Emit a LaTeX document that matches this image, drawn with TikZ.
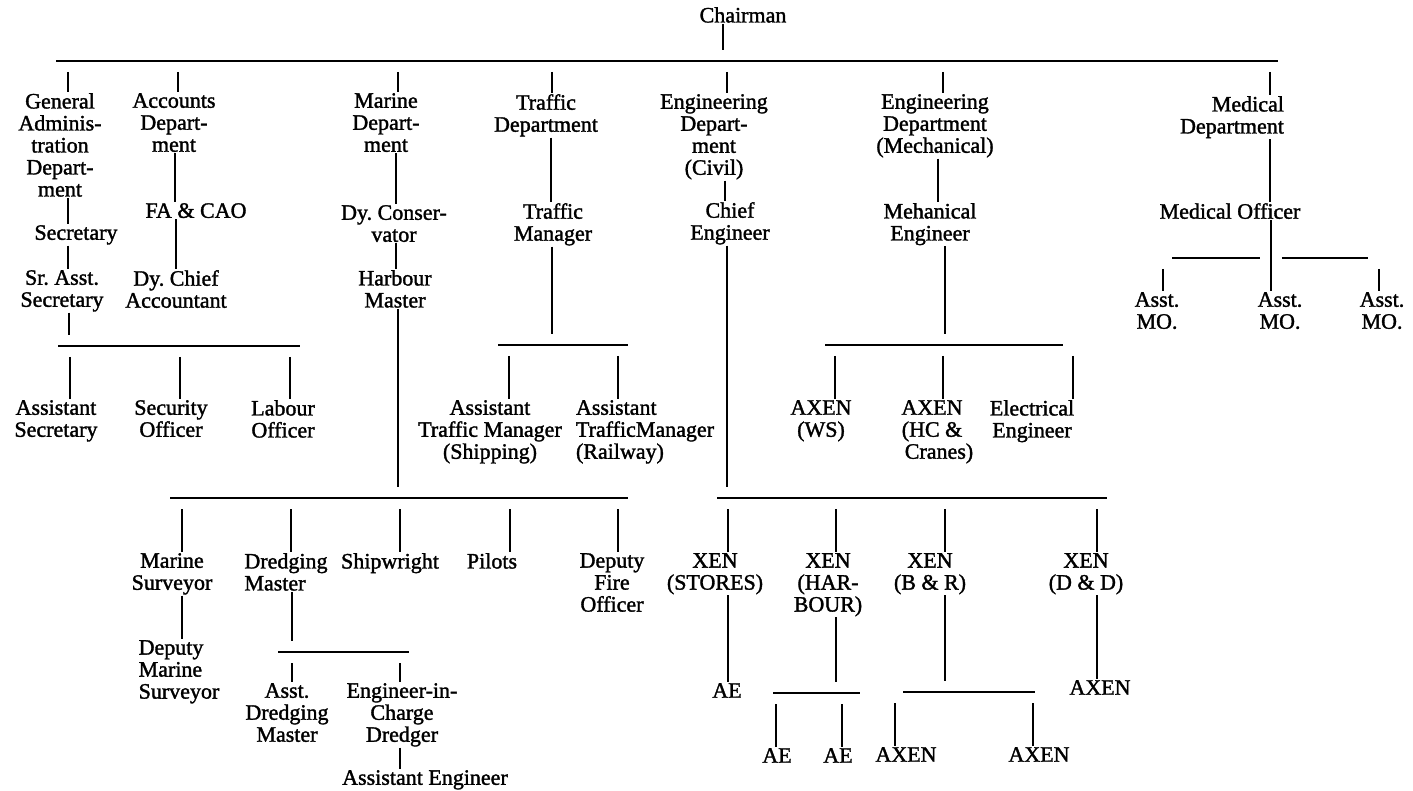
\documentclass[tikz,border=0pt]{standalone}
\usepackage{fontspec}
\setmainfont{Liberation Serif}
\newfontfamily\chartfont{Liberation Serif}[FakeBold=1.5]
\usetikzlibrary{calc}
\frenchspacing
\begin{document}
\begin{tikzpicture}[x=1pt,y=-1pt,
  post/.style={align=center,anchor=north,inner sep=1pt,font=\chartfont\fontsize{22}{22}\selectfont},
  link/.style={line width=1.8pt},
  drop/.style={link,shorten <=11pt},
  rise/.style={link,shorten >=11pt}]
  \useasboundingbox (0,0) rectangle (1413,791);
  % top and departments
  \node[post] (chair) at (743,6) {Chairman};
  \node[post] (gad) at (60,92) {General\\Adminis-\\tration\\Depart-\\ment};
  \node[post] (acc) at (174,92) {Accounts\\Depart-\\ment};
  \node[post] (mar) at (386,92) {Marine\\Depart-\\ment};
  \node[post] (trf) at (546,93) {Traffic\\Department};
  \node[post] (civ) at (714,93) {Engineering\\Depart-\\ment\\(Civil)};
  \node[post] (mech) at (935,93) {Engineering\\Department\\(Mechanical)};
  \node[post,align=right] (med) at (1232,95) {Medical\\Department};
  % general administration and accounts
  \node[post] (sec) at (76,224) {Secretary};
  \node[post] (srs) at (62,269) {Sr. Asst.\\Secretary};
  \node[post] (asec) at (56,399) {Assistant\\Secretary};
  \node[post] (seco) at (171,399) {Security\\Officer};
  \node[post] (labo) at (283,399) {Labour\\Officer};
  \node[post] (fa) at (196,202) {FA \& CAO};
  \node[post] (dyca) at (176,269) {Dy. Chief\\Accountant};
  % marine
  \node[post] (dycon) at (394,204) {Dy. Conser-\\vator};
  \node[post] (hm) at (395,269) {Harbour\\Master};
  \node[post] (msur) at (172,552) {Marine\\Surveyor};
  \node[post,align=left] (dmas) at (286,552) {Dredging\\Master};
  \node[post] (ship) at (390,552) {Shipwright};
  \node[post] (pil) at (492,552) {Pilots};
  \node[post] (dfo) at (612,552) {Deputy\\Fire\\Officer};
  \node[post,align=left] (dms) at (179,639) {Deputy\\Marine\\Surveyor};
  \node[post] (adm) at (287,682) {Asst.\\Dredging\\Master};
  \node[post] (eic) at (402,682) {Engineer-in-\\Charge\\Dredger};
  \node[post] (aeng) at (425,769) {Assistant Engineer};
  % traffic
  \node[post] (tm) at (553,202) {Traffic\\Manager};
  \node[post] (atms) at (490,399) {Assistant\\Traffic Manager\\(Shipping)};
  \node[post,align=left] (atmr) at (645,399) {Assistant\\TrafficManager\\(Railway)};
  % civil engineering
  \node[post] (ce) at (730,201) {Chief\\Engineer};
  \node[post] (xst) at (715,552) {XEN\\(STORES)};
  \node[post] (ae1) at (727,682) {AE};
  \node[post] (xhb) at (828,552) {XEN\\(HAR-\\BOUR)};
  \node[post] (ae2) at (777,747) {AE};
  \node[post] (ae3) at (838,747) {AE};
  \node[post] (xbr) at (930,552) {XEN\\(B \& R)};
  \node[post] (ax1) at (906,746) {AXEN};
  \node[post] (ax2) at (1039,746) {AXEN};
  \node[post] (xdd) at (1086,552) {XEN\\(D \& D)};
  \node[post] (ax3) at (1100,679) {AXEN};
  % mechanical engineering
  \node[post] (me) at (930,202) {Mehanical\\Engineer};
  \node[post] (axws) at (821,399) {AXEN\\(WS)};
  \node[post] (axhc) at (932,399) {AXEN\\(HC \&\\\hspace*{14pt}Cranes)};
  \node[post] (elen) at (1032,399) {Electrical\\Engineer};
  % medical
  \node[post] (mo) at (1230,202) {Medical Officer};
  \node[post] (amo1) at (1157,291) {Asst.\\MO.};
  \node[post] (amo2) at (1280,291) {Asst.\\MO.};
  \node[post] (amo3) at (1382,291) {Asst.\\MO.};

  % bars
  \coordinate (tbL) at (56,61);    \coordinate (tbR) at (1278,61);
  \coordinate (b2L) at (58,346);   \coordinate (b2R) at (300,346);
  \coordinate (b3L) at (170,498);  \coordinate (b3R) at (628,498);
  \coordinate (b4L) at (278,652);  \coordinate (b4R) at (409,652);
  \coordinate (b5L) at (498,345);  \coordinate (b5R) at (628,345);
  \coordinate (b6L) at (717,498);  \coordinate (b6R) at (1107,498);
  \coordinate (b7L) at (773,693);  \coordinate (b7R) at (860,693);
  \coordinate (b8L) at (903,692);  \coordinate (b8R) at (1035,692);
  \coordinate (b9L) at (825,345);  \coordinate (b9R) at (1063,345);
  \coordinate (b10L) at (1172,258); \coordinate (b10R) at (1368,258);
  \foreach \a/\b in {tbL/tbR,b2L/b2R,b3L/b3R,b4L/b4R,b5L/b5R,b6L/b6R,b7L/b7R,b8L/b8R,b9L/b9R}
    \draw[link] (\a) -- (\b);
  \draw[link] (b10L) -- ($(b10L)!0.45!(b10R)$);
  \draw[link] ($(b10L)!0.56!(b10R)$) -- (b10R);

  % drops from the bars
  \foreach \n/\x in {gad/68,acc/178,mar/398,trf/552,civ/727,mech/943,med/1270}
    \draw[drop] (tbL -| \x,0) -- (\n.north -| \x,0);
  \foreach \n/\x in {asec/70,seco/180,labo/290}
    \draw[drop] (b2L -| \x,0) -- (\n.north -| \x,0);
  \foreach \n/\x in {msur/182,dmas/291,ship/400,pil/510,dfo/618}
    \draw[drop] (b3L -| \x,0) -- (\n.north -| \x,0);
  \foreach \n/\x in {adm/292,eic/400}
    \draw[drop] (b4L -| \x,0) -- (\n.north -| \x,0);
  \foreach \n/\x in {atms/509,atmr/618}
    \draw[drop] (b5L -| \x,0) -- (\n.north -| \x,0);
  \foreach \n/\x in {xst/728,xhb/836,xbr/945,xdd/1097}
    \draw[drop] (b6L -| \x,0) -- (\n.north -| \x,0);
  \foreach \n/\x in {ae2/776,ae3/842}
    \draw[drop] (b7L -| \x,0) -- (\n.north -| \x,0);
  \foreach \n/\x in {ax1/895,ax2/1033}
    \draw[drop] (b8L -| \x,0) -- (\n.north -| \x,0);
  \foreach \n/\x in {axws/835,axhc/943,elen/1073}
    \draw[drop] (b9L -| \x,0) -- (\n.north -| \x,0);
  \foreach \n/\x in {amo1/1163,amo3/1379}
    \draw[drop] (b10L -| \x,0) -- (\n.north -| \x,0);

  % rises to the bars
  \foreach \n/\b/\x in {chair/tbL/723,srs/b2L/69,hm/b3L/398,dmas/b4L/292,tm/b5L/552,
      ce/b6L/727,xhb/b7L/836,xbr/b8L/945,me/b9L/945}
    \draw[rise] (\n.south -| \x,0) -- (\b -| \x,0);

  % direct links
  \foreach \a/\b/\x in {gad/sec/68,sec/srs/68,acc/fa/175,fa/dyca/176,mar/dycon/396,
      dycon/hm/396,msur/dms/182,eic/aeng/400,trf/tm/551,civ/ce/725,xst/ae1/728,
      xdd/ax3/1097,mech/me/938,med/mo/1270,mo/amo2/1271}
    \draw[link] (\a.south -| \x,0) -- (\b.north -| \x,0);
\end{tikzpicture}
\end{document}
